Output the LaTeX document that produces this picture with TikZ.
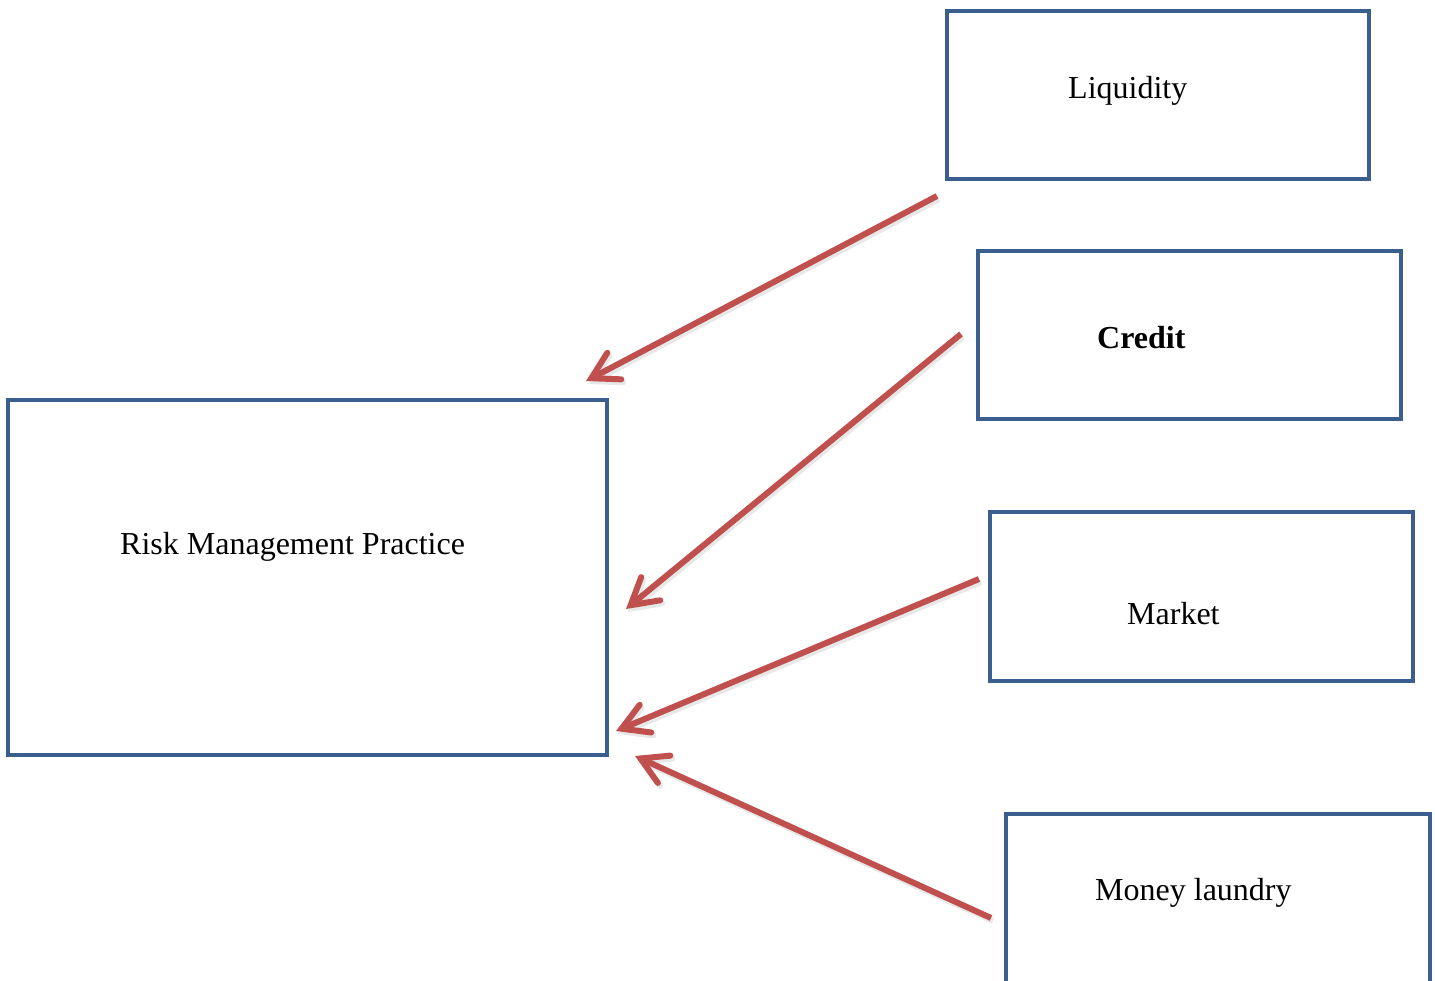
\documentclass[tikz,border=0pt]{standalone}
\usepackage{fontspec}
\setmainfont{Liberation Serif}
\usetikzlibrary{arrows.meta}
\definecolor{boxblue}{HTML}{3A5F8F}
\definecolor{arrred}{HTML}{C0504D}
\begin{document}
\begin{tikzpicture}[x=1pt,y=-1pt,
  box/.style={draw=boxblue,line width=4pt,fill=none,inner sep=0pt,outer sep=0pt,anchor=north west},
  lbl/.style={anchor=base west,inner sep=0pt,font=\fontsize{32}{38}\selectfont},
  risk/.style={draw=arrred,line width=6pt,line cap=butt,
    -{Straight Barb[length=26pt,width=30pt,line width=6pt,line cap=round]},
    preaction={draw=black!30,opacity=0.3,line width=6pt,transform canvas={xshift=2pt,yshift=-3pt}}}]
\useasboundingbox (0,0) rectangle (1435,981);
\node[box,minimum width=422pt,minimum height=168pt] (liq) at (947,11) {};
\node[box,minimum width=423pt,minimum height=168pt] (cred) at (978,251) {};
\node[box,minimum width=423pt,minimum height=169pt] (mkt) at (990,512) {};
\node[box,minimum width=424pt,minimum height=175pt] (money) at (1006,814) {};
\node[box,minimum width=599pt,minimum height=355pt] (rmp) at (8,400) {};
\node[lbl] (tliq) at (1068,99) {Liquidity};
\node[lbl,font=\fontsize{32}{38}\selectfont\bfseries] (tcred) at (1097,349) {Credit};
\node[lbl] (tmkt) at (1127,624) {Market};
\node[lbl] (tmoney) at (1095,900) {Money laundry};
\node[lbl] (trmp) at (120,554) {Risk Management Practice};
\coordinate (s1) at (937,196);
\coordinate (e1) at (586,381);
\coordinate (s2) at (961,334);
\coordinate (e2) at (626,609);
\coordinate (s3) at (979,579);
\coordinate (e3) at (616,731);
\coordinate (s4) at (991,918);
\coordinate (e4) at (635,756);
\draw[risk] (s1) -- (e1);
\draw[risk] (s2) -- (e2);
\draw[risk] (s3) -- (e3);
\draw[risk] (s4) -- (e4);
\end{tikzpicture}
\end{document}
